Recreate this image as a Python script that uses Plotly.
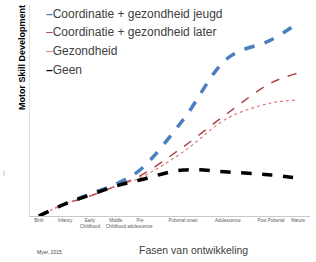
import plotly.graph_objects as go

stages = ["Birth", "Infancy", "Early<br>Childhood", "Middle<br>Childhood", "Pre<br>adolescence",
          "Pubertal onset", "Adolescence", "Post Pubertal", "Mature"]
stage_pos = [0, 1.02, 2.0, 3.02, 3.96, 5.65, 7.41, 9.1, 10.16]

series_names = ["Coordinatie + gezondheid jeugd", "Coordinatie + gezondheid later", "Gezondheid", "Geen"]
jeugd = [0, 6, 11, 16, 23, 48, 79, 88, 96.5]
later = [0, 6, 10, 15, 20, 34.5, 51.5, 66.5, 71.5]
gezondheid = [0, 6, 10, 15, 19, 32, 49, 56.5, 58]
geen = [0, 6, 10.5, 15, 18, 23, 22, 20.5, 19]

colors = ["#4a7ebf", "#a9454a", "#e07a7a", "#000000"]
widths = [3.5, 1.5, 1.2, 3.5]
dashes = ["dash", "dash", "dot", "dash"]

font = "Liberation Sans Narrow, Arial Narrow, Liberation Sans, Arial, sans-serif"

fig = go.Figure()
for name, vals, c, w, d in zip(series_names, [jeugd, later, gezondheid, geen], colors, widths, dashes):
    fig.add_trace(go.Scatter(x=stage_pos, y=vals, mode="lines", name=name, showlegend=False,
                             line=dict(color=c, width=w, dash=d, shape="spline")))

annotations = []
L, W, T, H = 30, 280, 5, 211
def px_x(p):
    return (p - L) / W
def px_y(p):
    return 1 - (p - T) / H

row_y = [14, 32, 51, 70]
for name, c, w, ry in zip(series_names, colors, widths, row_y):
    sym = "<b>–</b>" if w > 2 else "–"
    annotations.append(dict(
        text=f'<span style="color:{c}">{sym}</span>{name}', xref="paper", yref="paper",
        x=px_x(44), y=px_y(ry), xanchor="left", yanchor="middle", showarrow=False,
        font=dict(family=font, size=12, color="#404040")))

annotations += [
    dict(text="<b>Motor Skill Development</b>", xref="paper", yref="paper", x=px_x(22), y=px_y(58),
         xanchor="center", yanchor="middle", textangle=-90, showarrow=False,
         font=dict(family="Liberation Sans, Arial, sans-serif", size=9, color="#000000")),
    dict(text="Fasen van ontwikkeling", xref="paper", yref="paper", x=px_x(193), y=px_y(250),
         xanchor="center", yanchor="middle", showarrow=False,
         font=dict(family=font, size=10.5, color="#404040")),
    dict(text="Myer, 2015", xref="paper", yref="paper", x=px_x(35), y=px_y(252),
         xanchor="left", yanchor="middle", showarrow=False,
         font=dict(family="Liberation Sans, Arial, sans-serif", size=5, color="#404040")),
    dict(text=")", xref="paper", yref="paper", x=px_x(1), y=px_y(173),
         xanchor="left", yanchor="middle", showarrow=False,
         font=dict(family="Liberation Sans, Arial, sans-serif", size=5, color="#808080")),
]

fig.update_layout(
    width=316, height=262,
    margin=dict(l=L, r=316 - L - W, t=T, b=262 - T - H),
    paper_bgcolor="white", plot_bgcolor="white",
    showlegend=False,
    xaxis=dict(range=[-0.35, 10.63], tickmode="array", tickvals=stage_pos, ticktext=stages,
               tickangle=0, showgrid=False, zeroline=False, showline=True, linecolor="#c8c8c8",
               linewidth=1, ticks="", tickfont=dict(family=font, size=4.5, color="#595959")),
    yaxis=dict(range=[0, 105.5], showticklabels=False, showgrid=False, zeroline=False,
               showline=True, linecolor="#e0e0e0", linewidth=1, ticks=""),
    annotations=annotations,
)

fig.write_html("out.html", config={"displayModeBar": False},
               post_script="document.body.style.margin='0';")
